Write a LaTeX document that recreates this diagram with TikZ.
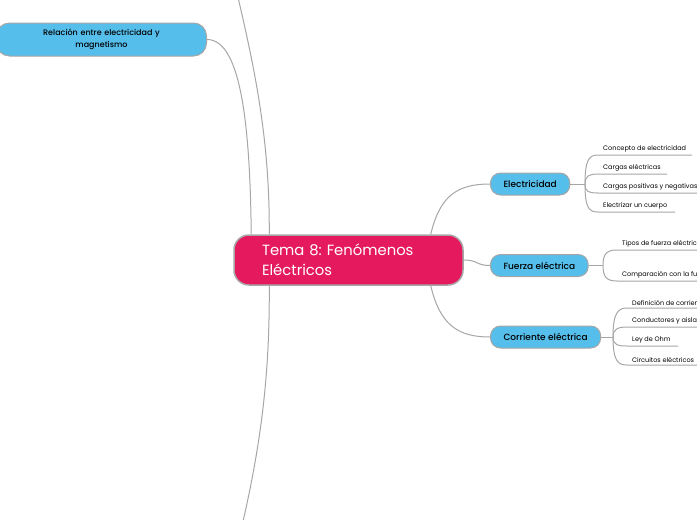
\documentclass[tikz,border=0pt]{standalone}
\usepackage{fontspec}
\setmainfont{Poppins}[BoldFont={Poppins Medium}]
\usetikzlibrary{positioning}
\usepackage{xcolor}
\definecolor{temared}{HTML}{E51A5E}
\definecolor{topicblue}{HTML}{56BEEB}
\definecolor{linegray}{HTML}{A6A6A6}
\frenchspacing

\begin{document}
\begin{tikzpicture}[x=1pt,y=-1pt,
  main/.style={draw=linegray, line width=1.5pt, rounded corners=15pt, fill=temared, text=white,
    font=\fontsize{14.8}{20}\selectfont, align=left, text width=173pt, inner xsep=28pt,
    inner ysep=0pt, minimum height=50pt},
  topic/.style={draw=linegray, line width=1pt, rounded corners=10pt, fill=topicblue,
    font=\bfseries\fontsize{9}{11}\selectfont, minimum height=22pt, inner xsep=13pt, anchor=west},
  leaf/.style={font=\fontsize{6.5}{8}\selectfont, inner xsep=5pt, inner ysep=2.5pt, anchor=south west},
  link/.style={draw=linegray, line width=1pt}]
  \useasboundingbox (0,0) rectangle (697,520);

  % central topic
  \node[main] (tema) at (348.5,260) {Tema 8: Fenómenos\\Eléctricos};

  % left side
  \node[topic, anchor=east, align=center, text width=184pt, minimum height=33pt,
    rounded corners=13pt, font=\bfseries\fontsize{8}{12}\selectfont] (rel) at (207,39.5)
    {Relación entre electricidad y\\magnetismo};
  \coordinate (upper) at (222,-70);
  \coordinate (lower) at (226,590);

  % right side
  \node[topic] (elec) at (490,184) {Electricidad};
  \node[topic] (fuerza) at (490,265.5) {Fuerza eléctrica};
  \node[topic] (corr) at (490,337) {Corriente eléctrica};

  \draw[link] ([xshift=18pt]tema.north west) .. controls (250,120) and (240,39.5) .. (rel.east);
  \draw[link] ([xshift=36pt]tema.north west) .. controls (270,120) and (248,40) .. (upper);
  \draw[link] ([xshift=36pt]tema.south west) .. controls (270,400) and (255,480) .. (lower);
  \draw[link] ([xshift=-33pt]tema.north east) .. controls (440,195) and (458,184) .. (elec.west);
  \draw[link] (tema.east) .. controls (478,260) and (476,265.5) .. (fuerza.west);
  \draw[link] ([xshift=-33pt]tema.south east) .. controls (440,325) and (458,337) .. (corr.west);

  % Electricidad
  \coordinate (ej) at (585,184);
  \node[leaf] (concepto) at (598,155) {Concepto de electricidad};
  \node[leaf] (cargas) at (598,174) {Cargas eléctricas};
  \node[leaf] (signos) at (598,193) {Cargas positivas y negativas};
  \node[leaf] (electrizar) at (598,212) {Electrizar un cuerpo};
  \draw[link] (elec.east) -- (ej);
  \draw[link] (ej) .. controls +(0,-24) and +(-9,0) .. (concepto.south west) -- ++(94,0);
  \draw[link] (ej) .. controls +(0,-8) and +(-9,0) .. (cargas.south west) -- ++(69,0);
  \draw[link] (ej) .. controls +(0,8) and +(-9,0) .. (signos.south west) -- ++(120,0);
  \draw[link] (ej) .. controls +(0,24) and +(-9,0) .. (electrizar.south west) -- ++(77,0);

  % Fuerza electrica
  \coordinate (fj) at (603,265.5);
  \node[leaf] (tipos) at (617,250) {Tipos de fuerza eléctrica};
  \node[leaf] (compara) at (617,281) {Comparación con la fuerza gravitatoria};
  \draw[link] (fuerza.east) -- (fj);
  \draw[link] (fj) .. controls +(0,-12) and +(-10,0) .. (tipos.south west) -- ++(120,0);
  \draw[link] (fj) .. controls +(0,12) and +(-10,0) .. (compara.south west) -- ++(150,0);

  % Corriente electrica
  \coordinate (cj) at (613,337);
  \node[leaf] (definicion) at (627,308) {Definición de corriente eléctrica};
  \node[leaf] (conductores) at (627,327) {Conductores y aislantes};
  \node[leaf] (ohm) at (627,346) {Ley de Ohm};
  \node[leaf] (circuitos) at (627,365) {Circuitos eléctricos};
  \draw[link] (corr.east) -- (cj);
  \draw[link] (cj) .. controls +(0,-24) and +(-9,0) .. (definicion.south west) -- ++(120,0);
  \draw[link] (cj) .. controls +(0,-8) and +(-9,0) .. (conductores.south west) -- ++(120,0);
  \draw[link] (cj) .. controls +(0,8) and +(-9,0) .. (ohm.south west) -- ++(51,0);
  \draw[link] (cj) .. controls +(0,24) and +(-9,0) .. (circuitos.south west) -- ++(80,0);
\end{tikzpicture}
\end{document}
